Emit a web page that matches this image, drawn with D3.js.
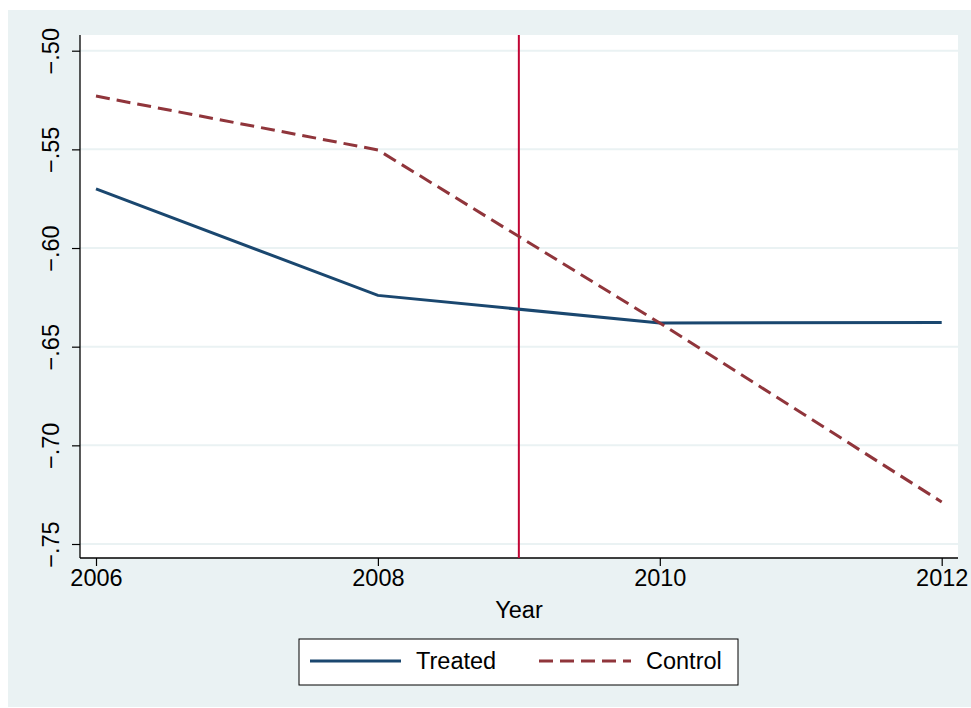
<!DOCTYPE html>
<html>
<head>
<meta charset="utf-8">
<script src="https://cdn.jsdelivr.net/npm/d3@7"></script>
<style>
  html, body { margin: 0; padding: 0; background: #ffffff; }
  svg { display: block; font-family: "Liberation Sans", Arial, sans-serif; }
</style>
</head>
<body>
<svg id="chart" width="971" height="708"></svg>
<script>
// Outcome by year for the two groups
const years = [2006, 2008, 2010, 2012];
const treated = [-0.570, -0.624, -0.638, -0.6377];
const control = [-0.523, -0.5503, -0.638, -0.7287];
const yTicks = [-0.50, -0.55, -0.60, -0.65, -0.70, -0.75];
const yTickLabels = ["\u2212.50", "\u2212.55", "\u2212.60", "\u2212.65", "\u2212.70", "\u2212.75"];
const xTicks = [2006, 2008, 2010, 2012];
const treatmentYear = 2009;
const seriesNames = ["Treated", "Control"];

const svg = d3.select("#chart");
const W = 971, H = 708;
const FS = 23.5;

const bg = "#eaf2f3";
const navy = "#1a476f";
const maroon = "#90353b";
const vcol = "#c10534";

// Outer graph region
svg.append("rect").attr("x", 8).attr("y", 10).attr("width", W - 8).attr("height", H - 11).attr("fill", bg);

// Plot region
const plot = { left: 80, top: 35, right: 958, bottom: 558 };
svg.append("rect")
  .attr("x", plot.left).attr("y", plot.top)
  .attr("width", plot.right - plot.left).attr("height", plot.bottom - plot.top)
  .attr("fill", "#ffffff");

const x = d3.scaleLinear().domain([2006, 2012]).range([96, 941.7]);
const y = d3.scaleLinear().domain([-0.50, -0.75]).range([50.7, 544]);

// Horizontal grid lines
svg.append("g").selectAll("line").data(yTicks).join("line")
  .attr("x1", plot.left).attr("x2", plot.right)
  .attr("y1", d => y(d)).attr("y2", d => y(d))
  .attr("stroke", bg).attr("stroke-width", 2);

// Y axis
const yAxis = d3.axisLeft(y).tickValues(yTicks)
  .tickFormat((d, i) => yTickLabels[i]).tickSize(8).tickPadding(0);
const gy = svg.append("g").attr("transform", `translate(${plot.left},0)`).call(yAxis);
gy.select(".domain").remove();
gy.selectAll(".tick line").attr("stroke", "#000").attr("stroke-width", 1.2);
gy.selectAll(".tick text")
  .attr("font-size", FS).attr("fill", "#000")
  .attr("text-anchor", "middle").attr("dy", null)
  .attr("transform", "translate(-29,0) rotate(-90)")
  .attr("x", 0).attr("y", 0)
  .attr("dominant-baseline", "central");
svg.append("line").attr("x1", plot.left).attr("x2", plot.left)
  .attr("y1", plot.top).attr("y2", plot.bottom)
  .attr("stroke", "#000").attr("stroke-width", 1.3);

// X axis
const xAxis = d3.axisBottom(x).tickValues(xTicks).tickFormat(d3.format("d")).tickSize(8).tickPadding(3);
const gx = svg.append("g").attr("transform", `translate(0,${plot.bottom})`).call(xAxis);
gx.select(".domain").remove();
gx.selectAll(".tick line").attr("stroke", "#000").attr("stroke-width", 1.2);
gx.selectAll(".tick text").attr("font-size", FS).attr("fill", "#000");
svg.append("line").attr("x1", plot.left).attr("x2", plot.right)
  .attr("y1", plot.bottom).attr("y2", plot.bottom)
  .attr("stroke", "#000").attr("stroke-width", 1.3);

svg.append("text").attr("x", 519).attr("y", 618)
  .attr("text-anchor", "middle").attr("font-size", FS).attr("fill", "#000").text("Year");

// Treatment year marker
svg.append("line")
  .attr("x1", x(treatmentYear)).attr("x2", x(treatmentYear))
  .attr("y1", plot.top).attr("y2", plot.bottom)
  .attr("stroke", vcol).attr("stroke-width", 2);

// Series lines
const line = d3.line().x((d, i) => x(years[i])).y(d => y(d));
svg.append("path").datum(treated).attr("d", line)
  .attr("fill", "none").attr("stroke", navy).attr("stroke-width", 3);
svg.append("path").datum(control).attr("d", line)
  .attr("fill", "none").attr("stroke", maroon).attr("stroke-width", 3)
  .attr("stroke-dasharray", "14,7");

// Legend
const lg = svg.append("g");
lg.append("rect").attr("x", 299).attr("y", 639).attr("width", 439).attr("height", 46)
  .attr("fill", "#fff").attr("stroke", "#000").attr("stroke-width", 1);
lg.append("line").attr("x1", 310).attr("x2", 401).attr("y1", 661).attr("y2", 661)
  .attr("stroke", navy).attr("stroke-width", 3);
lg.append("text").attr("x", 416).attr("y", 669).attr("font-size", FS).attr("fill", "#000").text(seriesNames[0]);
lg.append("line").attr("x1", 539).attr("x2", 631).attr("y1", 661).attr("y2", 661)
  .attr("stroke", maroon).attr("stroke-width", 3).attr("stroke-dasharray", "14,7");
lg.append("text").attr("x", 646).attr("y", 669).attr("font-size", FS).attr("fill", "#000").text(seriesNames[1]);
</script>
</body>
</html>
